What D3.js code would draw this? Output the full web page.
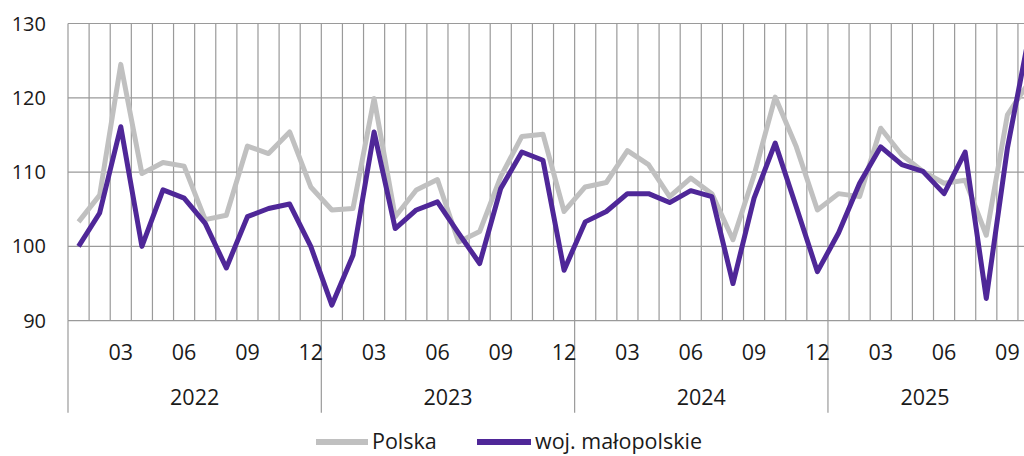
<!DOCTYPE html>
<html><head><meta charset="utf-8">
<script src="https://cdn.jsdelivr.net/npm/d3@7"></script>
<style>
html,body{margin:0;padding:0;background:#fff;overflow:hidden;}
text{font-family:"Open Sans","Noto Sans",sans-serif;fill:#1a1a1a;}
</style></head>
<body><svg id="c" width="1024" height="456"></svg>
<script>
const years = ["2022","2023","2024","2025"];
const months = ["01","02","03","04","05","06","07","08","09","10","11","12",
                "01","02","03","04","05","06","07","08","09","10","11","12",
                "01","02","03","04","05","06","07","08","09","10","11","12",
                "01","02","03","04","05","06","07","08","09","10"];
const monthTickLabels = ["03","06","09","12"];
const yTicks = [90,100,110,120,130];
const seriesNames = ["Polska","woj. małopolskie"];
const polska = [103.3,106.9,124.5,109.8,111.3,110.8,103.6,104.2,113.5,112.5,115.4,108.0,
                104.9,105.1,119.9,104.0,107.6,109.0,100.6,102.0,109.4,114.8,115.1,104.7,
                108.0,108.6,112.9,111.0,106.7,109.2,107.1,100.9,109.6,120.1,113.4,104.9,
                107.1,106.7,115.9,112.3,110.1,108.5,108.9,101.5,117.7,122.0];
const malopolskie = [100.0,104.5,116.1,100.0,107.6,106.5,103.1,97.1,104.0,105.1,105.7,100.0,
                92.1,98.8,115.4,102.4,104.9,106.0,101.8,97.7,107.8,112.7,111.6,96.8,
                103.3,104.7,107.1,107.1,105.9,107.5,106.7,95.0,106.5,113.9,105.3,96.6,
                101.8,108.5,113.4,111.0,110.1,107.1,112.7,93.0,113.2,128.0];

const svg = d3.select("#c");
const left = 68, bw = 21.11, plotTop = 23.5, plotBottom = 320.7;
const idx = d3.range(months.length);
const x = d3.scaleBand().domain(idx).range([left, left + bw*months.length]).paddingInner(0).paddingOuter(0);
const y = d3.scaleLinear().domain([90,130]).range([plotBottom, plotTop]);
const grid = "#9a9a9a";

// horizontal gridlines
svg.append("g").selectAll("line").data(yTicks).join("line")
  .attr("x1", left).attr("x2", 1024)
  .attr("y1", d=>y(d)).attr("y2", d=>y(d))
  .attr("stroke", grid).attr("stroke-width", 1.2);
// vertical gridlines (band boundaries)
svg.append("g").selectAll("line").data(idx.concat([months.length])).join("line")
  .attr("x1", d=> d<months.length ? x(d) : x(d-1)+bw).attr("x2", d=> d<months.length ? x(d) : x(d-1)+bw)
  .attr("y1", plotTop).attr("y2", plotBottom)
  .attr("stroke", grid).attr("stroke-width", 1.2);
// year separators
const yearStarts = years.map((yr,i)=>i*12);
svg.append("g").selectAll("line").data(yearStarts).join("line")
  .attr("x1", d=>x(d)).attr("x2", d=>x(d))
  .attr("y1", plotBottom).attr("y2", 412.7)
  .attr("stroke", grid).attr("stroke-width", 1.2);

// y labels
svg.append("g").selectAll("text").data(yTicks).join("text")
  .attr("x", 46).attr("y", d=>y(d)).attr("dy","0.35em")
  .attr("text-anchor","end").style("font-size","20px").text(d=>d);

// month labels
svg.append("g").selectAll("text").data(idx.filter(i=>monthTickLabels.includes(months[i]))).join("text")
  .attr("x", d=>x(d)+bw/2).attr("y", 352).attr("dy","0.35em")
  .attr("text-anchor","middle").style("font-size","21.5px").text(d=>months[d]);
// year labels
svg.append("g").selectAll("text").data(years).join("text")
  .attr("x", (d,i)=>{const s=i*12, e=Math.min(s+12, months.length); const xe = Math.min(x(e-1)+bw, 1022); return (x(s)+xe)/2;})
  .attr("y", 397).attr("dy","0.35em")
  .attr("text-anchor","middle").style("font-size","21.5px").text(d=>d);

const line = d3.line().x((d,i)=>x(i)+bw/2).y(d=>y(d)).curve(d3.curveLinear);
svg.append("path").datum(polska).attr("d", line)
  .attr("fill","none").attr("stroke","#c0c0c0").attr("stroke-width",5).attr("stroke-linejoin","round");
svg.append("path").datum(malopolskie).attr("d", line)
  .attr("fill","none").attr("stroke","#4f2798").attr("stroke-width",5).attr("stroke-linejoin","round");

// legend
const lg = svg.append("g");
const items = [{name:seriesNames[0], color:"#c0c0c0", x0:316, w:52},{name:seriesNames[1], color:"#4f2798", x0:477, w:54}];
items.forEach(it=>{
  lg.append("line").attr("x1",it.x0).attr("x2",it.x0+it.w).attr("y1",442).attr("y2",442)
    .attr("stroke",it.color).attr("stroke-width",6);
  lg.append("text").attr("x",it.x0+it.w+4).attr("y",442).attr("dy","0.33em").style("font-size","21.5px").text(it.name);
});
</script></body></html>
